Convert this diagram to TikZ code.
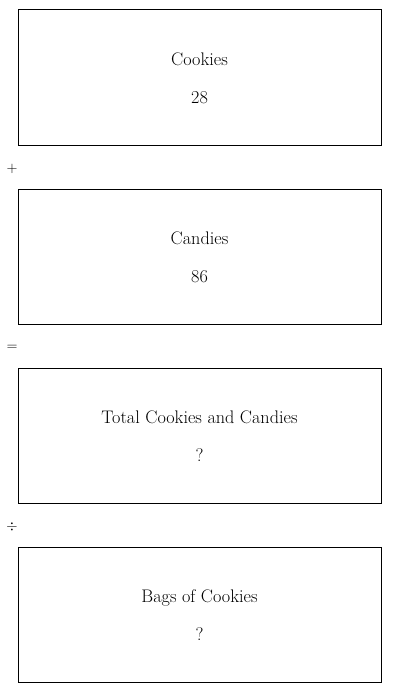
\documentclass[tikz,border=0pt]{standalone}
\usepackage{amsmath}
\usepackage{tikz}
\usetikzlibrary{positioning}

\begin{document}
\begin{tikzpicture}[
  x=1pt, y=1pt,
  font=\fontsize{18.2}{22}\selectfont,
  box/.style={draw=black, line width=1pt, minimum width=363pt, minimum height=135pt, inner sep=0pt},
  oplabel/.style={font=\fontsize{14}{16}\selectfont, inner sep=0pt},
  boxtext/.style={inner sep=0pt, anchor=base}
]
\useasboundingbox (0,0) rectangle (400,-693);

\node[box] (cookies) at (199.5,-77.5) {};
\node[boxtext] (cookiesname) at ([yshift=12.3pt]cookies.center) {Cookies};
\node[boxtext] (cookiesval) at ([yshift=-26.4pt]cookies.center) {28};

\node[oplabel] (plus) at (12,-169) {$+$};

\node[box] (candies) at (199.5,-256.5) {};
\node[boxtext] (candiesname) at ([yshift=12.3pt]candies.center) {Candies};
\node[boxtext] (candiesval) at ([yshift=-26.4pt]candies.center) {86};

\node[oplabel] (equals) at (12,-348) {$=$};

\node[box] (total) at (199.5,-435.5) {};
\node[boxtext] (totalname) at ([yshift=12.3pt]total.center) {Total Cookies and Candies};
\node[boxtext] (totalval) at ([yshift=-26.4pt]total.center) {?};

\node[oplabel] (divide) at (12,-527) {$\div$};

\node[box] (bags) at (199.5,-614.5) {};
\node[boxtext] (bagsname) at ([yshift=12.3pt]bags.center) {Bags of Cookies};
\node[boxtext] (bagsval) at ([yshift=-26.4pt]bags.center) {?};

\end{tikzpicture}
\end{document}
